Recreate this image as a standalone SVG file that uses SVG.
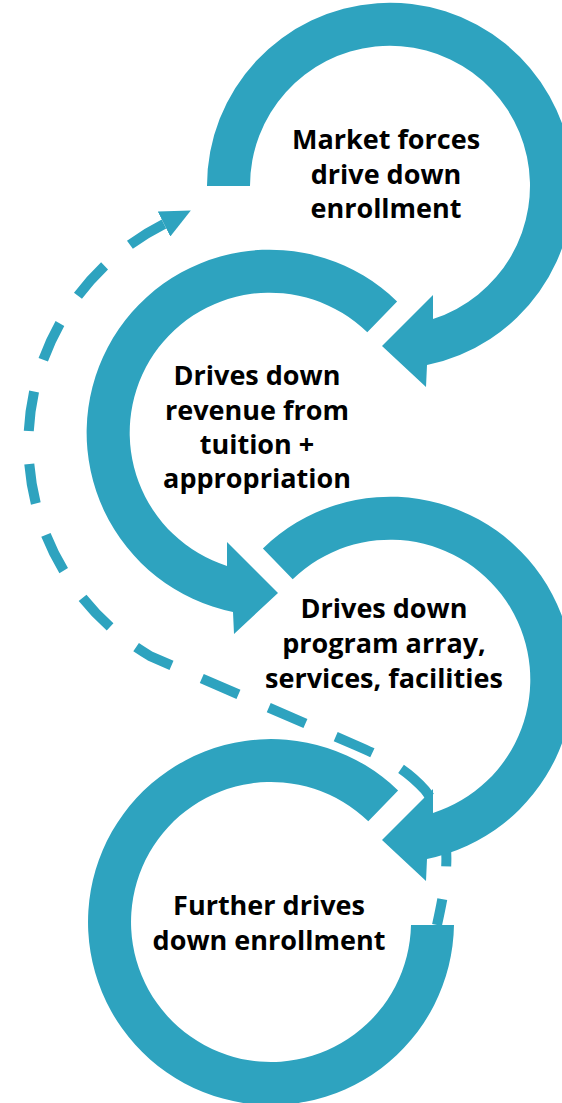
<svg xmlns="http://www.w3.org/2000/svg" width="562" height="1103" viewBox="0 0 562 1103">
<style>
.arrow{fill:#2EA3BF;stroke:none}
.dash{fill:none;stroke:#2EA3BF;stroke-width:10;stroke-dasharray:40 33}
.lbl{font-family:"Open Sans","Liberation Sans",sans-serif;font-weight:bold;font-size:27px;fill:#000;text-anchor:middle}
</style>
<defs>
<marker id="head" markerUnits="userSpaceOnUse" viewBox="0 0 30 28" markerWidth="30" markerHeight="28" refX="0" refY="14" orient="auto-start-reverse">
<path d="M0,0 L30,14 L0,28 Z" fill="#2EA3BF"/>
</marker>
</defs>
<rect width="562" height="1103" fill="#fff"/>
<g id="connectors">
<path class="dash" marker-start="url(#head)" d="M164,224 A246,246 0 0 0 150,656 L355,745 C385,758 405,768 425,790 C456,830 447,880 437,925"/>
</g>
<g id="node1">
<path class="arrow" d="M207,186 A183,183 0 1 1 427,365 L426,387 L382,346 L433,295 L433,319 A140,140 0 1 0 250,186 Z"/>
<text class="lbl" x="386" y="149">Market forces</text>
<text class="lbl" x="386" y="184">drive down</text>
<text class="lbl" x="386" y="218">enrollment</text>
</g>
<g id="node2">
<path class="arrow" d="M397.1,301.4 A183,183 0 1 0 233,612 L234,634 L278,593 L227,542 L227,566 A140,140 0 1 1 367.3,332.3 Z"/>
<text class="lbl" x="257" y="385">Drives down</text>
<text class="lbl" x="257" y="420">revenue from</text>
<text class="lbl" x="257" y="454">tuition +</text>
<text class="lbl" x="257" y="488">appropriation</text>
</g>
<g id="node3">
<path class="arrow" d="M262.9,548.4 A183,183 0 1 1 427,859 L426,881 L382,840 L433,789 L433,813 A140,140 0 1 0 292.7,579.3 Z"/>
<text class="lbl" x="384" y="618">Drives down</text>
<text class="lbl" x="384" y="653">program array,</text>
<text class="lbl" x="384" y="688">services, facilities</text>
</g>
<g id="node4">
<path class="arrow" d="M398.1,790.4 A183,183 0 1 0 454,925 L411,925 A140,140 0 1 1 368.3,821.3 Z"/>
<text class="lbl" x="269" y="915">Further drives</text>
<text class="lbl" x="269" y="950">down enrollment</text>
</g>
</svg>
